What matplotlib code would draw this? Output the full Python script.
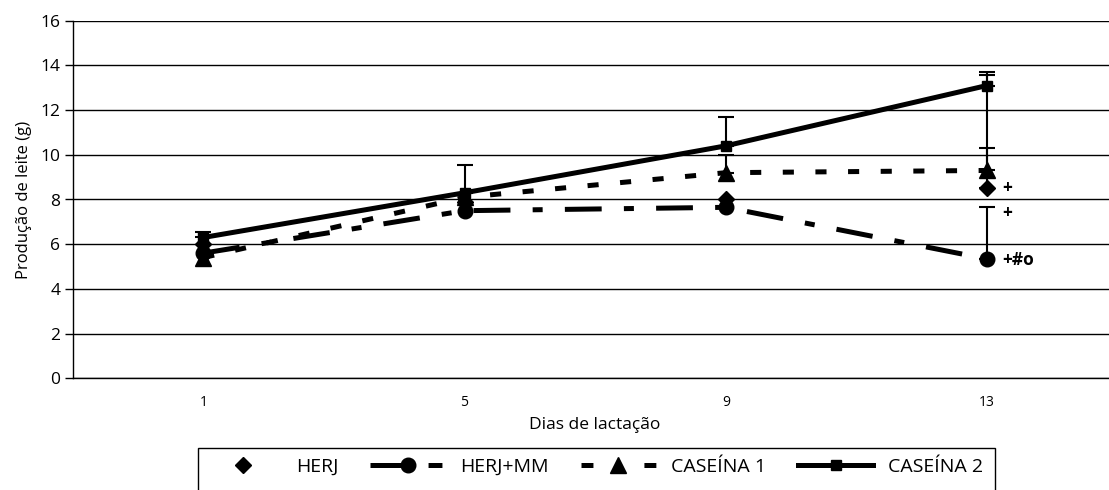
import numpy as np
import matplotlib
matplotlib.use("Agg")
import matplotlib.pyplot as plt
from matplotlib.lines import Line2D
from matplotlib.patches import Rectangle

plt.rcParams['font.family'] = ['Open Sans', 'DejaVu Sans']
plt.rcParams['lines.scale_dashes'] = False

# data
days = ["1", "5", "9", "13"]
herj = [6.0, 7.9, 8.0, 8.5]
herj_mm = [5.6, 7.5, 7.65, 5.34]
caseina1 = [5.4, 8.1, 9.2, 9.3]
caseina2 = [6.3, 8.3, 10.4, 13.1]

# upper error bars only (0 = none)
err_herj = [0.0, 0.0, 0.0, 5.07]
err_herj_mm = [0.0, 0.0, 0.0, 2.32]
err_caseina1 = [0.0, 0.0, 0.8, 1.0]
err_caseina2 = [0.24, 1.24, 1.3, 0.6]

# significance marks at day 13
marks = ["+", "+", "+#o"]
mark_y = [8.5, 7.4, 5.3]

x = np.arange(len(days))

W, H = 1109, 490
fig = plt.figure(figsize=(W / 100, H / 100), dpi=100)
ax = fig.add_axes([72.7 / W, 1 - 378.3 / H, (1117.6 - 72.7) / W, (378.3 - 20.7) / H])

# error bars first so markers sit on top
for vals, err in [(herj, err_herj), (herj_mm, err_herj_mm),
                  (caseina1, err_caseina1), (caseina2, err_caseina2)]:
    e = np.array(err)
    keep = e > 0
    ax.errorbar(x[keep], np.array(vals)[keep], yerr=[np.zeros(keep.sum()), e[keep]],
                fmt='none', ecolor='black', elinewidth=1.5, capsize=5.5, capthick=1.5, zorder=3)

lw = 3.6
ax.plot(x, caseina2, color='black', lw=lw, marker='s', ms=6.5, zorder=4,
        solid_capstyle='butt')
ax.plot(x, caseina1, color='black', lw=lw, dashes=(8, 15.5), marker='^', ms=12, zorder=4,
        dash_capstyle='butt')
ax.plot(x, herj_mm, color='black', lw=lw, dashes=(26.5, 16, 7.2, 16), marker='o', ms=10.5,
        zorder=4, dash_capstyle='butt')
ax.plot(x, herj, color='black', lw=0, marker='D', ms=8, zorder=5)

for t, yv in zip(marks, mark_y):
    ax.text(3.06, yv, t, fontsize=12.5, fontweight='bold', va='center', ha='left', zorder=6)

ax.set_xlim(-0.5, 3.5)
ax.set_ylim(0, 16)
ax.set_yticks(np.arange(0, 17, 2))
ax.set_xticks(x)
ax.set_xticklabels(days)
ax.tick_params(axis='y', length=6, width=1, labelsize=12.5, pad=3)
ax.tick_params(axis='x', length=0, labelsize=10, pad=12)
ax.grid(axis='y', color='black', lw=1)
ax.set_axisbelow(True)
for s in ['top', 'right']:
    ax.spines[s].set_visible(False)
ax.spines['left'].set_linewidth(1)
ax.spines['bottom'].set_linewidth(1)

ax.set_ylabel("Produção de leite (g)", fontsize=12, labelpad=6)
ax.set_xlabel("Dias de lactação", fontsize=12.5, labelpad=5)

handles = [
    Line2D([], [], color='black', lw=0, marker='D', ms=8),
    Line2D([], [], color='black', lw=lw, dashes=(32.4, 9.4, 10, 30), marker='o', ms=10.5),
    Line2D([], [], color='black', lw=lw, dashes=(8.6, 36.7), marker='^', ms=12),
    Line2D([], [], color='black', lw=lw, marker='s', ms=6.5),
]
labels = ["HERJ", "HERJ+MM", "CASEÍNA 1", "CASEÍNA 2"]
leg = fig.legend(handles, labels, loc='upper left', bbox_to_anchor=(198 / W, 1 - 450 / H),
                 ncol=4, fontsize=14, frameon=False, borderaxespad=0,
                 handlelength=3.86, handletextpad=0.77, columnspacing=1.65, borderpad=0.4)

# legend box runs off the bottom of the picture, as in the original
fig.patches.append(Rectangle((198 / W, -0.05), (995 - 198) / W, 0.05 + 42 / H,
                             transform=fig.transFigure, fill=False, edgecolor='black', lw=1))

fig.savefig("out.png", dpi=100)
